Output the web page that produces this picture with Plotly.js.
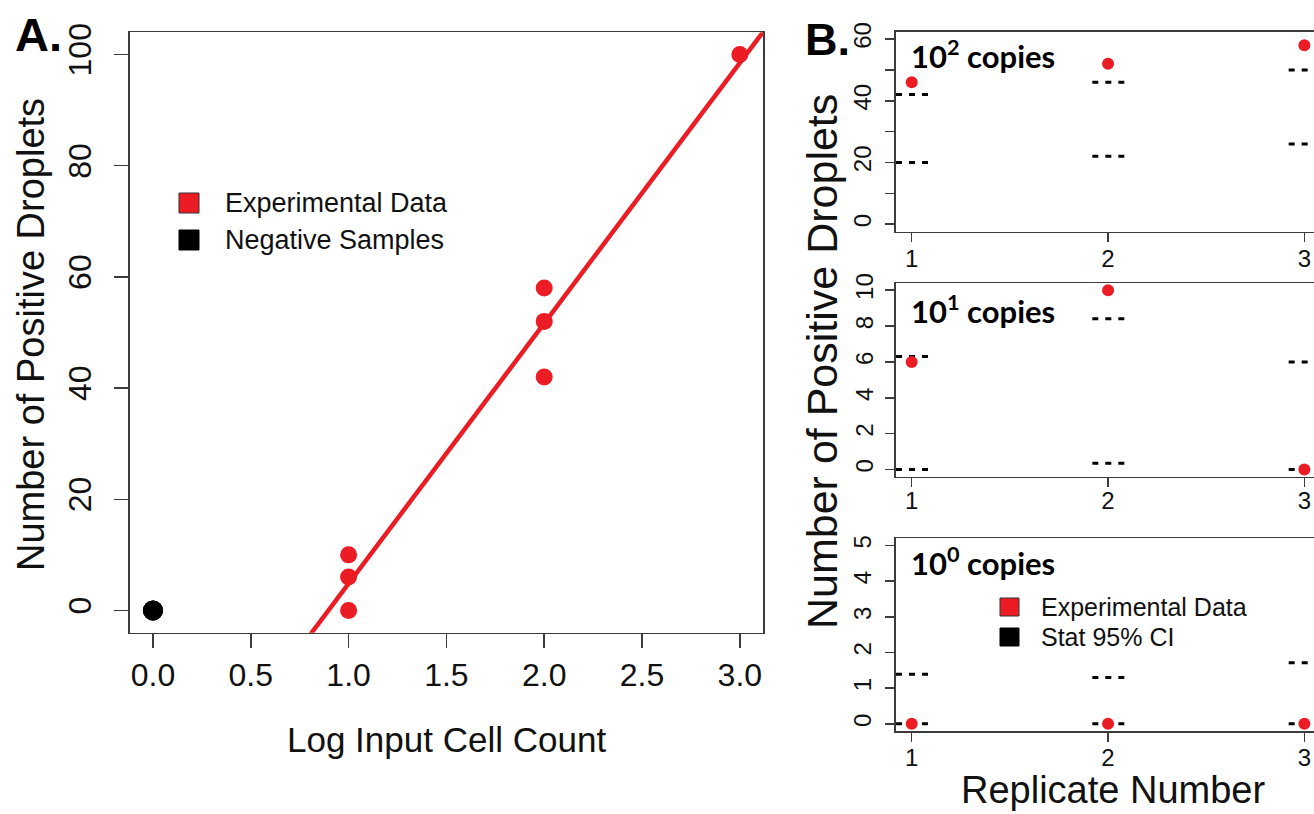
<!DOCTYPE html>
<html><head><meta charset="utf-8">
<script src="https://cdn.plot.ly/plotly-3.0.1.min.js"></script>
<style>html,body{margin:0;padding:0;background:#fff;} #chart{width:1314px;height:814px;}</style>
</head><body><div id="chart"></div>
<script>
// ---------- Panel A data ----------
const expLogCount = [1, 1, 1, 2, 2, 2, 3];
const expDroplets = [10, 6, 0, 58, 52, 42, 100];
const negLogCount = [0, 0, 0];
const negDroplets = [0, 0, 0];
const aXTicks = [0, 0.5, 1, 1.5, 2, 2.5, 3];
const aXTickText = ['0.0', '0.5', '1.0', '1.5', '2.0', '2.5', '3.0'];
const aYTicks = [0, 20, 40, 60, 80, 100];

// ---------- Panel B data ----------
const replicates = [1, 2, 3];
const panelTitles = ['10<sup>2</sup> copies', '10<sup>1</sup> copies', '10<sup>0</sup> copies'];
const exp100 = [46, 52, 58];
const ciLow100 = [20, 22, 26];
const ciHigh100 = [42, 46, 50];
const exp10 = [6, 10, 0];
const ciLow10 = [0, 0.35, 0];
const ciHigh10 = [6.3, 8.4, 6.0];
const exp1 = [0, 0, 0];
const ciLow1 = [0, 0, 0];
const ciHigh1 = [1.39, 1.3, 1.71];
const bTopTicks = [0, 20, 40, 60];
const bTopMinorTicks = [10, 30, 50];
const bMidTicks = [0, 2, 4, 6, 8, 10];
const bLowTicks = [0, 1, 2, 3, 4, 5];

// ---------- helpers ----------
const W = 1314, H = 814;
const px = v => v / W;
const py = v => 1 - v / H;
const FONT = 'Liberation Sans, Arial, Helvetica, sans-serif';
const TITLE_FONT = 'Lato, Open Sans, sans-serif';
const RED = '#EC1C24';
const FRAME = '#3c3c3c';
const CLEAR = 'rgba(0,0,0,0)';

function linFit(xs, ys) {
  const n = xs.length;
  const mx = xs.reduce((a, b) => a + b, 0) / n;
  const my = ys.reduce((a, b) => a + b, 0) / n;
  let sxy = 0, sxx = 0;
  for (let i = 0; i < n; i++) { sxy += (xs[i] - mx) * (ys[i] - my); sxx += (xs[i] - mx) ** 2; }
  const m = sxy / sxx;
  return { m: m, b: my - m * mx };
}
const fit = linFit(expLogCount, expDroplets);
const aXRange = [-0.12, 3.12];

function ciSegments(reps, lows, highs) {
  const xs = [], ys = [];
  [lows, highs].forEach(arr => {
    reps.forEach((r, i) => { xs.push(r - 0.08, r + 0.1, null); ys.push(arr[i], arr[i], null); });
  });
  return { x: xs, y: ys };
}

const traces = [];
// Panel A
traces.push({ x: aXRange, y: aXRange.map(x => fit.b + fit.m * x), xaxis: 'x', yaxis: 'y', mode: 'lines',
  line: { color: RED, width: 4.5 }, hoverinfo: 'skip', showlegend: false });
traces.push({ x: expLogCount, y: expDroplets, xaxis: 'x', yaxis: 'y', mode: 'markers',
  marker: { color: RED, size: 17 }, showlegend: false });
traces.push({ x: negLogCount, y: negDroplets, xaxis: 'x', yaxis: 'y', mode: 'markers',
  marker: { color: '#000', size: 20 }, showlegend: false });

// Panel B
const bSets = [
  { exp: exp100, lo: ciLow100, hi: ciHigh100, ax: '2' },
  { exp: exp10, lo: ciLow10, hi: ciHigh10, ax: '3' },
  { exp: exp1, lo: ciLow1, hi: ciHigh1, ax: '4' }
];
bSets.forEach(s => {
  const seg = ciSegments(replicates, s.lo, s.hi);
  traces.push({ x: seg.x, y: seg.y, xaxis: 'x' + s.ax, yaxis: 'y' + s.ax, mode: 'lines',
    line: { color: '#000', width: 3, dash: '6px,7px' }, connectgaps: false, hoverinfo: 'skip', showlegend: false });
  traces.push({ x: replicates, y: s.exp, xaxis: 'x' + s.ax, yaxis: 'y' + s.ax, mode: 'markers',
    marker: { color: RED, size: 12 }, showlegend: false });
});

// empty carrier traces so the label-only overlay axes get drawn
[['x', 'y5'], ['x2', 'y6'], ['x3', 'y7'], ['x4', 'y8']].forEach(p => {
  traces.push({ x: [null], y: [null], xaxis: p[0], yaxis: p[1], mode: 'markers', hoverinfo: 'skip', showlegend: false });
});

const axBase = { showline: true, linecolor: FRAME, linewidth: 1.5, ticks: 'outside', tickcolor: FRAME,
  tickwidth: 1.5, showgrid: false, zeroline: false, fixedrange: true };

// label-only overlay y axis (places rotated tick labels at the reference distance)
function labelAxis(overlay, anchor, dom, range, tv, len, size) {
  return { overlaying: overlay, anchor: anchor, domain: dom, range: range, tickvals: tv, showline: false,
    ticks: 'outside', ticklen: len, tickcolor: CLEAR, showgrid: false, zeroline: false, fixedrange: true,
    tickangle: -90, tickfont: { family: FONT, size: size, color: '#111' } };
}

const bXDomain = [px(895.7), 1];
const bXRange = [0.9185, 3.049];
function bX(anchor, standoff) {
  return Object.assign({}, axBase, { domain: bXDomain, range: bXRange, anchor: anchor, tickvals: replicates,
    ticklen: 9, mirror: true, ticklabelstandoff: standoff, tickfont: { family: FONT, size: 24, color: '#111' } });
}
function bY(anchor, dom, range, tv) {
  return Object.assign({}, axBase, { domain: dom, range: range, anchor: anchor, tickvals: tv,
    ticklen: 9, showticklabels: false });
}

const aYDom = [py(632.7), py(32.3)], aYRange = [-4, 104];
const topDom = [py(231.5), py(31.7)], topRange = [-2.4, 62.4];
const midDom = [py(476.7), py(283)], midRange = [-0.4, 10.4];
const lowDom = [py(731), py(538.3)], lowRange = [-0.2, 5.2];

const yTop = bY('x2', topDom, topRange, bTopTicks);
yTop.minor = { tickmode: 'array', tickvals: bTopMinorTicks, ticks: 'outside', ticklen: 9, tickwidth: 1.5, tickcolor: FRAME, showgrid: false };

const layout = {
  width: W, height: H, margin: { l: 0, r: 0, t: 0, b: 0 }, paper_bgcolor: '#fff', plot_bgcolor: '#fff',
  showlegend: false,
  xaxis: Object.assign({}, axBase, { domain: [px(129.5), px(763.3)], range: aXRange, anchor: 'y',
    tickvals: aXTicks, ticktext: aXTickText, ticklen: 14, mirror: true, ticklabelstandoff: -1,
    tickfont: { family: FONT, size: 32, color: '#111' } }),
  yaxis: Object.assign({}, axBase, { domain: aYDom, range: aYRange, anchor: 'x',
    tickvals: aYTicks, ticklen: 14, mirror: true, showticklabels: false }),
  yaxis5: labelAxis('y', 'x', aYDom, aYRange, aYTicks, 25, 32),
  xaxis2: bX('y2', -4),
  yaxis2: yTop,
  yaxis6: labelAxis('y2', 'x2', topDom, topRange, bTopTicks, 14, 24),
  xaxis3: bX('y3', -7),
  yaxis3: bY('x3', midDom, midRange, bMidTicks),
  yaxis7: labelAxis('y3', 'x3', midDom, midRange, bMidTicks, 12, 24),
  xaxis4: bX('y4', -4),
  yaxis4: bY('x4', lowDom, lowRange, bLowTicks),
  yaxis8: labelAxis('y4', 'x4', lowDom, lowRange, bLowTicks, 14, 24),
  shapes: [
    { type: 'rect', xref: 'paper', yref: 'paper', x0: px(179), x1: px(199), y0: py(213), y1: py(193),
      fillcolor: RED, line: { color: '#333', width: 1 } },
    { type: 'rect', xref: 'paper', yref: 'paper', x0: px(179), x1: px(199), y0: py(250), y1: py(230),
      fillcolor: '#000', line: { color: '#000', width: 1 } },
    { type: 'rect', xref: 'paper', yref: 'paper', x0: px(1000), x1: px(1019), y0: py(616), y1: py(598),
      fillcolor: RED, line: { color: '#333', width: 1 } },
    { type: 'rect', xref: 'paper', yref: 'paper', x0: px(1000), x1: px(1019), y0: py(646), y1: py(628),
      fillcolor: '#000', line: { color: '#000', width: 1 } }
  ],
  annotations: [
    { text: '<b>A.</b>', x: px(13), y: py(35), xanchor: 'left', yanchor: 'middle', font: { family: FONT, size: 47, color: '#000' } },
    { text: '<b>B.</b>', x: px(803), y: py(39), xanchor: 'left', yanchor: 'middle', font: { family: FONT, size: 45, color: '#000' } },
    { text: 'Number of Positive Droplets', x: px(31), y: py(335), textangle: -90, xanchor: 'center', yanchor: 'middle', font: { family: FONT, size: 38, color: '#111' } },
    { text: 'Log Input Cell Count', x: px(446), y: py(739), xanchor: 'center', yanchor: 'middle', font: { family: FONT, size: 35, color: '#111' } },
    { text: 'Number of Positive Droplets', x: px(822), y: py(362), textangle: -90, xanchor: 'center', yanchor: 'middle', font: { family: FONT, size: 43, color: '#111' } },
    { text: 'Replicate Number', x: px(1113), y: py(790), xanchor: 'center', yanchor: 'middle', font: { family: FONT, size: 38, color: '#111' } },
    { text: 'Experimental Data', x: px(223), y: py(203), xanchor: 'left', yanchor: 'middle', font: { family: FONT, size: 27, color: '#111' } },
    { text: 'Negative Samples', x: px(223), y: py(240), xanchor: 'left', yanchor: 'middle', font: { family: FONT, size: 27, color: '#111' } },
    { text: 'Experimental Data', x: px(1039), y: py(607), xanchor: 'left', yanchor: 'middle', font: { family: FONT, size: 25, color: '#111' } },
    { text: 'Stat 95% CI', x: px(1039), y: py(637), xanchor: 'left', yanchor: 'middle', font: { family: FONT, size: 25, color: '#111' } },
    { text: '<b>' + panelTitles[0] + '</b>', x: px(909), y: py(54), xanchor: 'left', yanchor: 'middle', font: { family: TITLE_FONT, size: 31, color: '#000' } },
    { text: '<b>' + panelTitles[1] + '</b>', x: px(909), y: py(309), xanchor: 'left', yanchor: 'middle', font: { family: TITLE_FONT, size: 31, color: '#000' } },
    { text: '<b>' + panelTitles[2] + '</b>', x: px(909), y: py(561), xanchor: 'left', yanchor: 'middle', font: { family: TITLE_FONT, size: 31, color: '#000' } }
  ].map(a => Object.assign({ xref: 'paper', yref: 'paper', showarrow: false }, a))
};

Plotly.newPlot('chart', traces, layout, { displayModeBar: false, staticPlot: true });
</script></body></html>
